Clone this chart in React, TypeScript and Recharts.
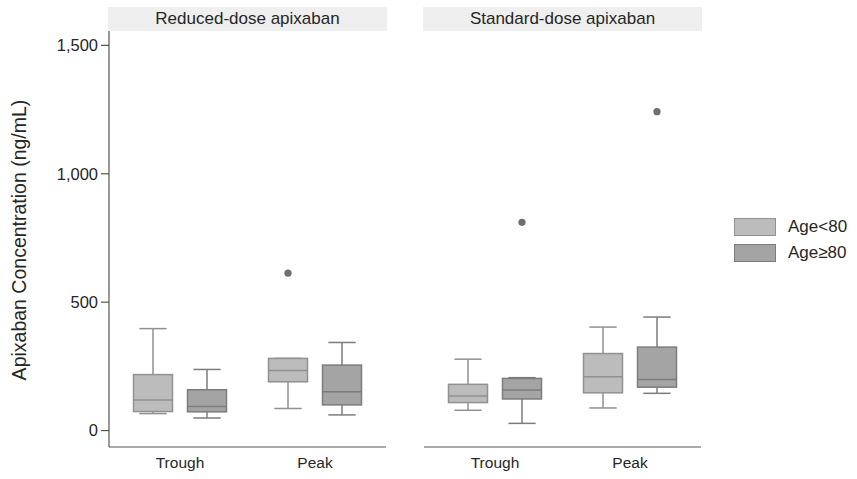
import { ComposedChart, Bar, XAxis, YAxis } from "recharts";

const timepoints = ["Trough", "Peak"];
// each box: [lower whisker, Q1, median, Q3, upper whisker]
const reducedUnder80 = [
  [66, 74, 119, 218, 397],
  [86, 190, 234, 281, 281],
];
const reducedOver80 = [
  [49, 73, 94, 159, 238],
  [61, 100, 151, 255, 343],
];
const standardUnder80 = [
  [79, 109, 135, 180, 278],
  [88, 147, 210, 300, 403],
];
const standardOver80 = [
  [28, 123, 158, 203, 206],
  [145, 169, 199, 325, 442],
];
const reducedUnder80Out = [[], [613]];
const reducedOver80Out = [[], []];
const standardUnder80Out = [[], []];
const standardOver80Out = [[811], [1242]];

const yTicks = [0, 500, 1000, 1500];
const panelTitles = ["Reduced-dose apixaban", "Standard-dose apixaban"];
const legendLabels = ["Age<80", "Age≥80"];

const FONT = '"Liberation Sans", Arial, sans-serif';
const YOUNG = { fill: "#bcbcbc", stroke: "#919191" };
const OLD = { fill: "#a4a4a4", stroke: "#7c7c7c" };
const AXIS = "#555555";
const TEXT = "#262626";

function buildRows(young: number[][], youngOut: number[][], old: number[][], oldOut: number[][]) {
  return timepoints.map((name, i) => ({
    name,
    young: young[i],
    youngOut: youngOut[i],
    youngRange: [young[i][0], Math.max(young[i][4], ...youngOut[i])],
    old: old[i],
    oldOut: oldOut[i],
    oldRange: [old[i][0], Math.max(old[i][4], ...oldOut[i])],
  }));
}

const reducedRows = buildRows(reducedUnder80, reducedUnder80Out, reducedOver80, reducedOver80Out);
const standardRows = buildRows(standardUnder80, standardUnder80Out, standardOver80, standardOver80Out);

function BoxShape(props: any) {
  const { x, y, width, height, payload, group, colors } = props;
  const stats: number[] = payload[group];
  const outs: number[] = payload[group + "Out"];
  const [lo, hi] = payload[group + "Range"];
  const top = Math.min(y, y + height);
  const bottom = Math.max(y, y + height);
  // map a value into the pixel span the bar was given by the y scale
  const py = (v: number) => bottom - ((v - lo) / (hi - lo || 1)) * (bottom - top);
  const cx = x + width / 2;
  const cap = width * 0.7;
  const [wl, q1, med, q3, wh] = stats;
  return (
    <g>
      <line x1={cx} x2={cx} y1={py(wl)} y2={py(q1)} stroke={colors.stroke} strokeWidth={1.5} />
      <line x1={cx} x2={cx} y1={py(q3)} y2={py(wh)} stroke={colors.stroke} strokeWidth={1.5} />
      <line x1={cx - cap / 2} x2={cx + cap / 2} y1={py(wl)} y2={py(wl)} stroke={colors.stroke} strokeWidth={1.5} />
      <line x1={cx - cap / 2} x2={cx + cap / 2} y1={py(wh)} y2={py(wh)} stroke={colors.stroke} strokeWidth={1.5} />
      <rect
        x={x}
        y={py(q3)}
        width={width}
        height={py(q1) - py(q3)}
        fill={colors.fill}
        stroke={colors.stroke}
        strokeWidth={1.5}
      />
      <line x1={x} x2={x + width} y1={py(med)} y2={py(med)} stroke={colors.stroke} strokeWidth={1.5} />
      {outs.map((o, i) => (
        <circle key={i} cx={cx} cy={py(o)} r={3.6} fill="#6e6e6e" />
      ))}
    </g>
  );
}

function Panel({ rows, showY, width, left }: { rows: any[]; showY: boolean; width: number; left: number }) {
  return (
    <div style={{ position: "absolute", left, top: 0 }}>
      <ComposedChart
        width={width}
        height={479}
        data={rows}
        margin={{ top: 31, right: showY ? 14 : 0, left: 0, bottom: 2 }}
        barSize={39}
        barGap={15}
      >
        <XAxis
          dataKey="name"
          height={30}
          tickLine={false}
          tickSize={8}
          tickMargin={2}
          padding={{ left: 3.5, right: 3.5 }}
          axisLine={{ stroke: AXIS, strokeWidth: 1.2 }}
          tick={{ fill: TEXT, fontSize: 15.5, fontFamily: FONT }}
        />
        <YAxis
          hide={!showY}
          width={109}
          domain={[-64, 1556]}
          allowDataOverflow
          ticks={yTicks}
          interval={0}
          tickSize={8}
          tickMargin={3}
          tickFormatter={(v: number) => v.toLocaleString("en-US")}
          axisLine={{ stroke: AXIS, strokeWidth: 1.2 }}
          tickLine={{ stroke: AXIS, strokeWidth: 1.2 }}
          tick={{ fill: TEXT, fontSize: 16.5, fontFamily: FONT }}
        />
        <Bar
          dataKey="youngRange"
          isAnimationActive={false}
          shape={(p: any) => <BoxShape {...p} group="young" colors={YOUNG} />}
        />
        <Bar
          dataKey="oldRange"
          isAnimationActive={false}
          shape={(p: any) => <BoxShape {...p} group="old" colors={OLD} />}
        />
      </ComposedChart>
    </div>
  );
}

export default function App() {
  const strip = (left: number, text: string) => (
    <div
      style={{
        position: "absolute",
        left,
        top: 7,
        width: 279,
        height: 24,
        lineHeight: "24px",
        background: "#efefef",
        textAlign: "center",
        fontSize: 17,
        color: TEXT,
        fontFamily: FONT,
      }}
    >
      {text}
    </div>
  );
  return (
    <div style={{ position: "absolute", left: 0, top: 0, width: 857, height: 479, background: "#fff" }}>
      <Panel rows={reducedRows} showY width={400} left={0} />
      <Panel rows={standardRows} showY={false} width={277} left={424} />
      {strip(108, panelTitles[0])}
      {strip(423, panelTitles[1])}
      <svg style={{ position: "absolute", left: 0, top: 0 }} width={40} height={479}>
        <text
          x={26}
          y={240}
          transform="rotate(-90 26 240)"
          textAnchor="middle"
          fontSize={19.5}
          fontFamily={FONT}
          fill={TEXT}
        >
          Apixaban Concentration (ng/mL)
        </text>
      </svg>
      <div style={{ position: "absolute", left: 734, top: 218, fontFamily: FONT, fontSize: 17, color: TEXT }}>
        {legendLabels.map((label, i) => {
          const c = i === 0 ? YOUNG : OLD;
          return (
            <div key={label} style={{ display: "flex", alignItems: "center", height: 18, marginBottom: 8 }}>
              <div
                style={{
                  width: 40,
                  height: 16,
                  background: c.fill,
                  border: `1.5px solid ${c.stroke}`,
                  marginRight: 12,
                }}
              />
              <span>{label}</span>
            </div>
          );
        })}
      </div>
    </div>
  );
}
